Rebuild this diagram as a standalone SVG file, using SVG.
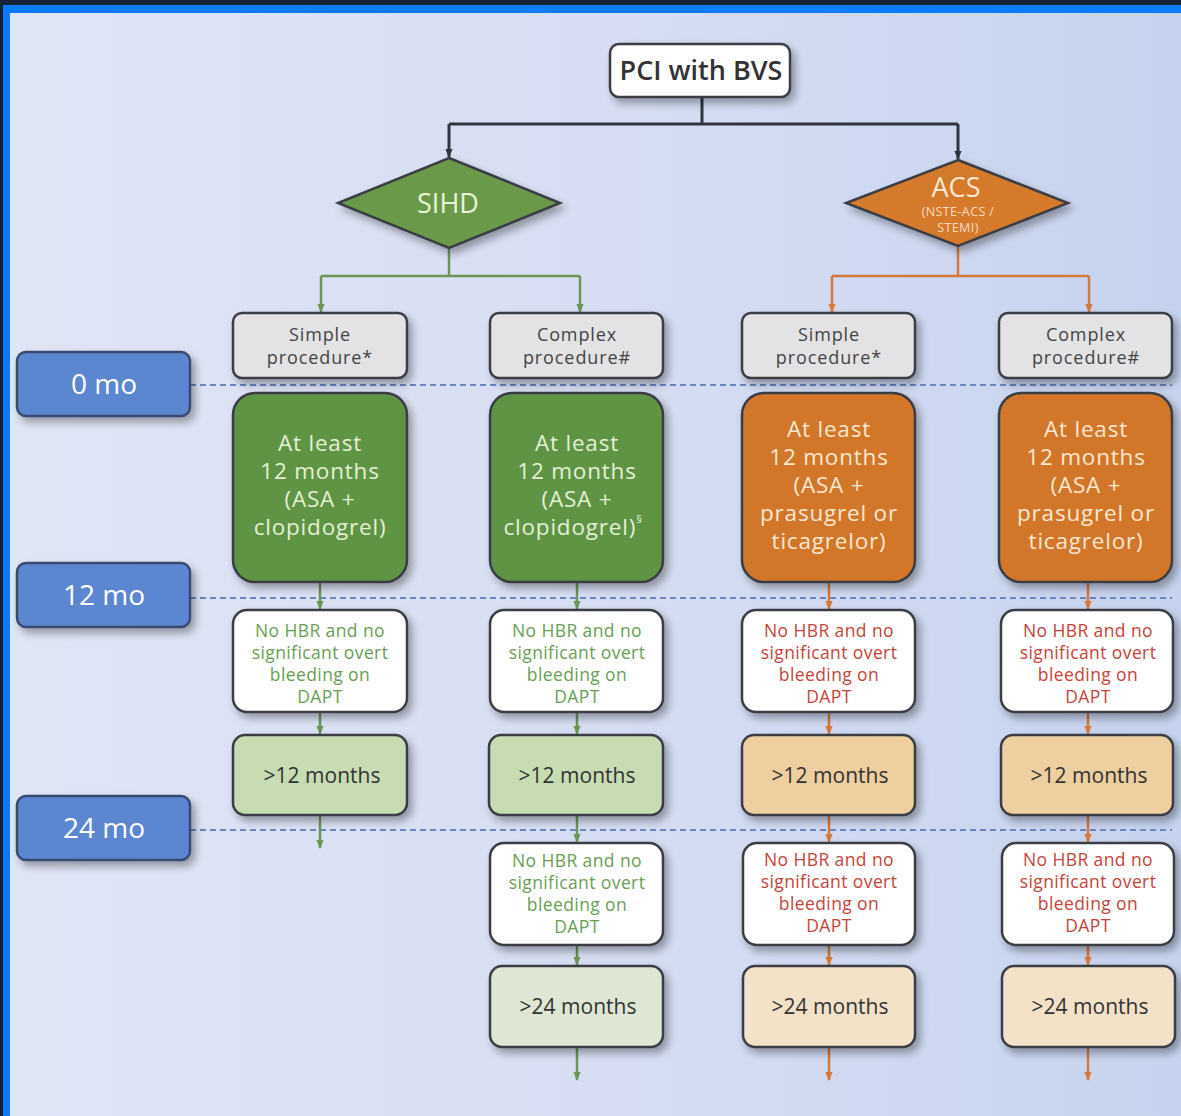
<svg xmlns="http://www.w3.org/2000/svg" width="1181" height="1116" viewBox="0 0 1181 1116">
<defs>
<linearGradient id="bg" x1="0" y1="0" x2="1" y2="0">
<stop offset="0" stop-color="#e0e5f6"/>
<stop offset="0.5" stop-color="#d7def3"/>
<stop offset="1" stop-color="#c6d3ee"/>
</linearGradient>
<filter id="sh" x="-20%" y="-20%" width="150%" height="150%">
<feGaussianBlur in="SourceAlpha" stdDeviation="4"/>
<feOffset dx="4" dy="5"/>
<feComponentTransfer><feFuncA type="linear" slope="0.35"/></feComponentTransfer>
<feMerge><feMergeNode/><feMergeNode in="SourceGraphic"/></feMerge>
</filter>
<marker id="aD" viewBox="0 0 10 10" refX="9" refY="5" markerWidth="9" markerHeight="9" markerUnits="userSpaceOnUse" orient="auto"><path d="M0,1 L10,5 L0,9 z" fill="#2f3540"/></marker>
<marker id="aG" viewBox="0 0 10 10" refX="9" refY="5" markerWidth="9" markerHeight="9" markerUnits="userSpaceOnUse" orient="auto"><path d="M0,1 L10,5 L0,9 z" fill="#6a9656"/></marker>
<marker id="aO" viewBox="0 0 10 10" refX="9" refY="5" markerWidth="9" markerHeight="9" markerUnits="userSpaceOnUse" orient="auto"><path d="M0,1 L10,5 L0,9 z" fill="#d4793a"/></marker>
</defs>
<style>
text{font-family:"Open Sans","Noto Sans","Liberation Sans",sans-serif;text-anchor:middle}
.box{stroke:#3a3d44;stroke-width:2.5}
.pci{fill:#ffffff}
.proc{fill:#e3e3e6}
.time{fill:#5b86cf;stroke:#394a72;stroke-width:2.5}
.g{fill:#5f9445}
.o{fill:#d2762a}
.w{fill:#ffffff}
.lg{fill:#c8dcb4}
.lo{fill:#eecf9f}
.pg{fill:#dde7d4}
.po{fill:#f3e2c8}
.t-pci{font-size:27px;font-weight:600;fill:#333}
.t-proc{font-size:18px;letter-spacing:0.9px;fill:#444}
.t-time{font-size:28px;fill:#ffffff}
.t-big-g{font-size:22.5px;letter-spacing:0.8px;fill:#e4f0d4}
.t-big-o{font-size:22.5px;letter-spacing:0.8px;fill:#fbe8d2}
.t-cg{font-size:17.5px;letter-spacing:0.4px;fill:#6a9e55}
.t-co{font-size:17.5px;letter-spacing:0.4px;fill:#c4443a}
.t-m{font-size:21px;fill:#333}
.cD{stroke:#2f3540;stroke-width:3;fill:none}
.cG{stroke:#6a9656;stroke-width:2.5;fill:none}
.cO{stroke:#d4793a;stroke-width:2.5;fill:none}
.dash{stroke:#6a86c4;stroke-width:2;stroke-dasharray:6 4;fill:none}
</style>

<!-- frame -->
<rect x="0" y="0" width="1181" height="1116" fill="#14233a"/>
<rect x="3" y="5" width="1178" height="1111" fill="#0a7bfb"/>
<rect x="10" y="13" width="1171" height="1103" fill="url(#bg)"/>

<!-- dashed time lines -->
<g id="timelines">
<line class="dash" x1="190" y1="385" x2="1172" y2="385"/>
<line class="dash" x1="190" y1="598" x2="1172" y2="598"/>
<line class="dash" x1="190" y1="830" x2="1172" y2="830"/>
</g>

<!-- connectors -->
<g id="connectors">
<path class="cD" d="M702,97 V124 M449,124 H958"/>
<path class="cD" d="M449,124 V157" marker-end="url(#aD)"/>
<path class="cD" d="M958,124 V159" marker-end="url(#aD)"/>
<path class="cG" d="M449,248 V276 M321,276 H580"/>
<path class="cG" d="M321,276 V312" marker-end="url(#aG)"/>
<path class="cG" d="M580,276 V312" marker-end="url(#aG)"/>
<path class="cO" d="M958,246 V276 M832,276 H1089"/>
<path class="cO" d="M832,276 V312" marker-end="url(#aO)"/>
<path class="cO" d="M1089,276 V312" marker-end="url(#aO)"/>
<!-- col1 -->
<path class="cG" d="M320,582 V609" marker-end="url(#aG)"/>
<path class="cG" d="M320,712 V734" marker-end="url(#aG)"/>
<path class="cG" d="M320,815 V848" marker-end="url(#aG)"/>
<!-- col2 -->
<path class="cG" d="M577,582 V609" marker-end="url(#aG)"/>
<path class="cG" d="M577,712 V734" marker-end="url(#aG)"/>
<path class="cG" d="M577,815 V842" marker-end="url(#aG)"/>
<path class="cG" d="M577,945 V965" marker-end="url(#aG)"/>
<path class="cG" d="M577,1047 V1080" marker-end="url(#aG)"/>
<!-- col3 -->
<path class="cO" d="M829,582 V609" marker-end="url(#aO)"/>
<path class="cO" d="M829,712 V734" marker-end="url(#aO)"/>
<path class="cO" d="M829,815 V842" marker-end="url(#aO)"/>
<path class="cO" d="M829,945 V965" marker-end="url(#aO)"/>
<path class="cO" d="M829,1047 V1080" marker-end="url(#aO)"/>
<!-- col4 -->
<path class="cO" d="M1088,582 V609" marker-end="url(#aO)"/>
<path class="cO" d="M1088,712 V734" marker-end="url(#aO)"/>
<path class="cO" d="M1088,815 V842" marker-end="url(#aO)"/>
<path class="cO" d="M1088,945 V965" marker-end="url(#aO)"/>
<path class="cO" d="M1088,1047 V1080" marker-end="url(#aO)"/>
</g>

<!-- top -->
<g id="pci"><rect class="box pci" x="610" y="44" width="180" height="53" rx="9" filter="url(#sh)"/><text class="t-pci" x="701" y="80">PCI with BVS</text></g>
<g id="sihd"><polygon class="box" points="449,158 560,203 449,248 338,203" style="fill:#6a9a48" filter="url(#sh)"/><text x="448" y="213" style="font-size:27px;fill:#e8f3da">SIHD</text></g>
<g id="acs"><polygon class="box" points="958,160 1068,203 958,246 846,203" style="fill:#d47a2c" filter="url(#sh)"/><text x="956" y="197" style="font-size:27px;fill:#fbe9d6">ACS</text><text x="958" y="216" style="font-size:12.5px;letter-spacing:0.4px;fill:#f8dcc0">(NSTE-ACS /</text><text x="958" y="232" style="font-size:12.5px;letter-spacing:0.4px;fill:#f8dcc0">STEMI)</text></g>

<!-- time labels -->
<g id="t0"><rect class="time" x="17" y="352" width="173" height="64" rx="9" filter="url(#sh)"/><text class="t-time" x="104" y="394">0 mo</text></g>
<g id="t12"><rect class="time" x="17" y="563" width="173" height="64" rx="9" filter="url(#sh)"/><text class="t-time" x="104" y="605">12 mo</text></g>
<g id="t24"><rect class="time" x="17" y="796" width="173" height="64" rx="9" filter="url(#sh)"/><text class="t-time" x="104" y="838">24 mo</text></g>

<!-- procedure boxes -->
<g id="p1"><rect class="box proc" x="233" y="313" width="174" height="65" rx="9" filter="url(#sh)"/><text class="t-proc" x="320" y="341">Simple</text><text class="t-proc" x="320" y="364">procedure*</text></g>
<g id="p2"><rect class="box proc" x="490" y="313" width="173" height="65" rx="9" filter="url(#sh)"/><text class="t-proc" x="577" y="341">Complex</text><text class="t-proc" x="577" y="364">procedure#</text></g>
<g id="p3"><rect class="box proc" x="742" y="313" width="173" height="65" rx="9" filter="url(#sh)"/><text class="t-proc" x="829" y="341">Simple</text><text class="t-proc" x="829" y="364">procedure*</text></g>
<g id="p4"><rect class="box proc" x="999" y="313" width="173" height="65" rx="9" filter="url(#sh)"/><text class="t-proc" x="1086" y="341">Complex</text><text class="t-proc" x="1086" y="364">procedure#</text></g>

<!-- DAPT boxes -->
<g id="d1"><rect class="box g" x="233" y="393" width="174" height="189" rx="22" filter="url(#sh)"/>
<text class="t-big-g" x="320" y="451">At least</text><text class="t-big-g" x="320" y="479">12 months</text><text class="t-big-g" x="320" y="507">(ASA +</text><text class="t-big-g" x="320" y="535">clopidogrel)</text></g>
<g id="d2"><rect class="box g" x="490" y="393" width="173" height="189" rx="22" filter="url(#sh)"/>
<text class="t-big-g" x="577" y="451">At least</text><text class="t-big-g" x="577" y="479">12 months</text><text class="t-big-g" x="577" y="507">(ASA +</text><text class="t-big-g" x="573" y="535">clopidogrel)<tspan dy="-12" style="font-size:11px">§</tspan></text></g>
<g id="d3"><rect class="box o" x="742" y="393" width="173" height="189" rx="22" filter="url(#sh)"/>
<text class="t-big-o" x="829" y="437">At least</text><text class="t-big-o" x="829" y="465">12 months</text><text class="t-big-o" x="829" y="493">(ASA +</text><text class="t-big-o" x="829" y="521">prasugrel or</text><text class="t-big-o" x="829" y="549">ticagrelor)</text></g>
<g id="d4"><rect class="box o" x="999" y="393" width="173" height="189" rx="22" filter="url(#sh)"/>
<text class="t-big-o" x="1086" y="437">At least</text><text class="t-big-o" x="1086" y="465">12 months</text><text class="t-big-o" x="1086" y="493">(ASA +</text><text class="t-big-o" x="1086" y="521">prasugrel or</text><text class="t-big-o" x="1086" y="549">ticagrelor)</text></g>

<!-- condition boxes row 1 -->
<g id="c1"><rect class="box w" x="233" y="610" width="174" height="102" rx="14" filter="url(#sh)"/>
<text class="t-cg" x="320" y="637">No HBR and no</text><text class="t-cg" x="320" y="659">significant overt</text><text class="t-cg" x="320" y="681">bleeding on</text><text class="t-cg" x="320" y="703">DAPT</text></g>
<g id="c2"><rect class="box w" x="490" y="610" width="173" height="102" rx="14" filter="url(#sh)"/>
<text class="t-cg" x="577" y="637">No HBR and no</text><text class="t-cg" x="577" y="659">significant overt</text><text class="t-cg" x="577" y="681">bleeding on</text><text class="t-cg" x="577" y="703">DAPT</text></g>
<g id="c3"><rect class="box w" x="742" y="610" width="173" height="102" rx="14" filter="url(#sh)"/>
<text class="t-co" x="829" y="637">No HBR and no</text><text class="t-co" x="829" y="659">significant overt</text><text class="t-co" x="829" y="681">bleeding on</text><text class="t-co" x="829" y="703">DAPT</text></g>
<g id="c4"><rect class="box w" x="1001" y="610" width="172" height="102" rx="14" filter="url(#sh)"/>
<text class="t-co" x="1088" y="637">No HBR and no</text><text class="t-co" x="1088" y="659">significant overt</text><text class="t-co" x="1088" y="681">bleeding on</text><text class="t-co" x="1088" y="703">DAPT</text></g>

<!-- >12 months -->
<g id="m1"><rect class="box lg" x="233" y="735" width="174" height="80" rx="12" filter="url(#sh)"/><text class="t-m" x="322" y="783">&gt;12 months</text></g>
<g id="m2"><rect class="box lg" x="489" y="735" width="174" height="80" rx="12" filter="url(#sh)"/><text class="t-m" x="577" y="783">&gt;12 months</text></g>
<g id="m3"><rect class="box lo" x="742" y="735" width="173" height="80" rx="12" filter="url(#sh)"/><text class="t-m" x="830" y="783">&gt;12 months</text></g>
<g id="m4"><rect class="box lo" x="1001" y="735" width="172" height="80" rx="12" filter="url(#sh)"/><text class="t-m" x="1089" y="783">&gt;12 months</text></g>

<!-- condition boxes row 2 -->
<g id="c5"><rect class="box w" x="490" y="843" width="173" height="102" rx="14" filter="url(#sh)"/>
<text class="t-cg" x="577" y="867">No HBR and no</text><text class="t-cg" x="577" y="889">significant overt</text><text class="t-cg" x="577" y="911">bleeding on</text><text class="t-cg" x="577" y="933">DAPT</text></g>
<g id="c6"><rect class="box w" x="743" y="843" width="172" height="102" rx="14" filter="url(#sh)"/>
<text class="t-co" x="829" y="866">No HBR and no</text><text class="t-co" x="829" y="888">significant overt</text><text class="t-co" x="829" y="910">bleeding on</text><text class="t-co" x="829" y="932">DAPT</text></g>
<g id="c7"><rect class="box w" x="1002" y="843" width="172" height="102" rx="14" filter="url(#sh)"/>
<text class="t-co" x="1088" y="866">No HBR and no</text><text class="t-co" x="1088" y="888">significant overt</text><text class="t-co" x="1088" y="910">bleeding on</text><text class="t-co" x="1088" y="932">DAPT</text></g>

<!-- >24 months -->
<g id="n2"><rect class="box pg" x="490" y="966" width="173" height="81" rx="12" filter="url(#sh)"/><text class="t-m" x="578" y="1014">&gt;24 months</text></g>
<g id="n3"><rect class="box po" x="743" y="966" width="172" height="81" rx="12" filter="url(#sh)"/><text class="t-m" x="830" y="1014">&gt;24 months</text></g>
<g id="n4"><rect class="box po" x="1002" y="966" width="173" height="81" rx="12" filter="url(#sh)"/><text class="t-m" x="1090" y="1014">&gt;24 months</text></g>
</svg>
